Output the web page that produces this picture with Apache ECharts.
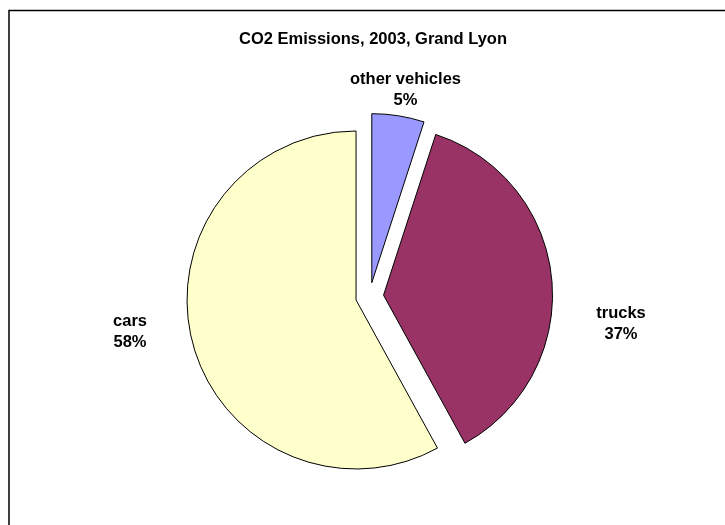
<!DOCTYPE html>
<html>
<head>
<meta charset="utf-8">
<script src="https://cdn.jsdelivr.net/npm/echarts@6/dist/echarts.min.js"></script>
<style>
html,body{margin:0;padding:0;background:#fff;}
#chart{width:725px;height:525px;}
</style>
</head>
<body>
<div id="chart"></div>
<script>
var categories = ['other vehicles', 'trucks', 'cars'];
var values = [5, 37, 58];
var colors = ['#9999FF', '#993366', '#FFFFCC'];
var titleText = 'CO2 Emissions, 2003, Grand Lyon';

var labelPositions = [[405.5, 90], [621, 324], [130, 332]];

var chart = echarts.init(document.getElementById('chart'), null, {renderer: 'canvas'});
var font = "'Liberation Sans', Arial, Helvetica, sans-serif";
var pieCenter = [369.6, 296.5];
var pieRadius = 169;

chart.setOption({
  animation: false,
  backgroundColor: '#ffffff',
  title: {
    text: titleText,
    left: 368,
    top: 26,
    textAlign: 'center',
    textStyle: {fontFamily: font, fontWeight: 'bold', fontSize: 16.5, color: '#000'}
  },
  graphic: [{
    type: 'rect',
    shape: {x: 9, y: 10.5, width: 900, height: 700},
    style: {fill: 'none', stroke: '#000', lineWidth: 1.5},
    silent: true,
    z: 100
  }],
  series: [{
    type: 'pie',
    center: pieCenter,
    radius: pieRadius,
    startAngle: 90,
    clockwise: true,
    selectedMode: 'multiple',
    selectedOffset: 14,
    emphasis: {disabled: true},
    itemStyle: {borderColor: '#000', borderWidth: 1},
    label: {show: false},
    labelLine: {show: false},
    data: categories.map(function (c, i) {
      return {name: c, value: values[i], selected: true, itemStyle: {color: colors[i]}};
    })
  }, {
    type: 'pie',
    center: pieCenter,
    radius: pieRadius,
    startAngle: 90,
    clockwise: true,
    silent: true,
    selectedMode: false,
    percentPrecision: 0,
    avoidLabelOverlap: false,
    emphasis: {disabled: true},
    itemStyle: {color: 'rgba(0,0,0,0)', borderWidth: 0},
    label: {
      show: true,
      position: 'outside',
      formatter: '{b}\n{d}%',
      fontFamily: font,
      fontWeight: 'bold',
      fontSize: 16.5,
      lineHeight: 21.5,
      color: '#000'
    },
    labelLine: {show: false},
    labelLayout: function (params) {
      var p = labelPositions[params.dataIndex];
      return {x: p[0], y: p[1], align: 'center', verticalAlign: 'middle'};
    },
    data: categories.map(function (c, i) {
      return {name: c, value: values[i]};
    })
  }]
});
</script>
</body>
</html>
